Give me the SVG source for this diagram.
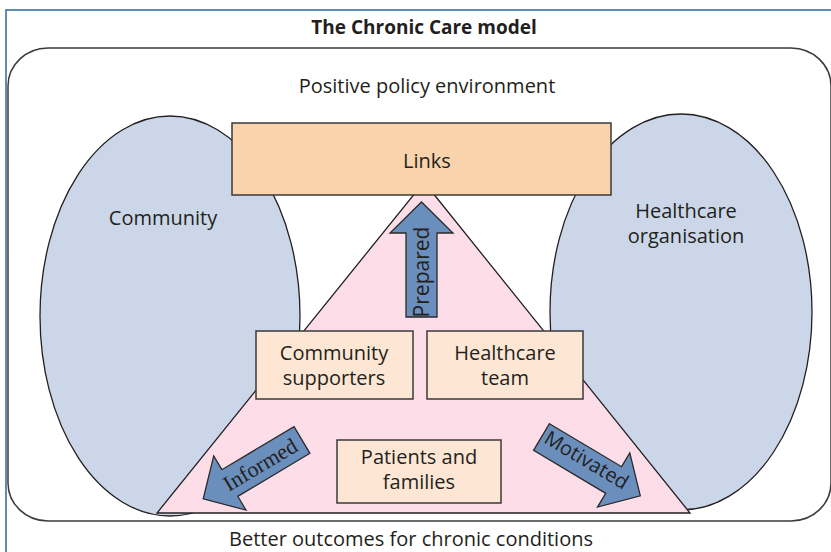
<svg xmlns="http://www.w3.org/2000/svg" width="831" height="552" viewBox="0 0 831 552">
<defs>
<style>
.t{font-family:"Open Sans","Liberation Sans",sans-serif;font-size:20px;fill:#231f20;text-anchor:middle}
.box{fill:#fde7d4;stroke:#3a3a3a;stroke-width:1.5}
.ell{fill:#cbd7e8;stroke:#231f20;stroke-width:1.3}
.arr{fill:#6b8fbd;stroke:#2a2a2a;stroke-width:1.3}
</style>
<path id="arrow" d="M0,-15.5 L84,-15.5 L84,-31.5 L115,0 L84,31.5 L84,15.5 L0,15.5 Z"/>
</defs>
<rect width="831" height="552" fill="#ffffff"/>
<rect x="6" y="10" width="840" height="560" fill="none" stroke="#2d6a9f" stroke-width="1.5"/>
<text class="t" x="424" y="34" style="font-weight:bold;font-size:19px">The Chronic Care model</text>
<rect id="env" x="8" y="48" width="823" height="473" rx="40" ry="38" fill="#ffffff" stroke="#3a3a3a" stroke-width="1.5"/>
<text class="t" x="427" y="93">Positive policy environment</text>
<g id="community">
<ellipse class="ell" cx="170" cy="316" rx="130" ry="200"/>
<text class="t" x="163" y="225">Community</text>
</g>
<g id="healthcare-org">
<ellipse class="ell" cx="681" cy="312" rx="131" ry="198"/>
<text class="t" x="686" y="218">Healthcare</text>
<text class="t" x="686" y="243">organisation</text>
</g>
<g id="triangle">
<path d="M424,182 L690,513 L157,513 Z" fill="#fcdde8" stroke="#231f20" stroke-width="1.3"/>
</g>
<g id="links">
<rect x="232" y="123" width="379" height="72" fill="#f9d3ac" stroke="#3a3a3a" stroke-width="1.5"/>
<text class="t" x="427" y="168">Links</text>
</g>
<g id="connectors">
<use href="#arrow" class="arr" transform="translate(421.5,317) rotate(-90)"/>
<use href="#arrow" class="arr" transform="translate(302,440) rotate(149.2)"/>
<use href="#arrow" class="arr" transform="translate(541.5,437) rotate(30.8)"/>
<text class="t" transform="translate(429,272) rotate(-90)" style="font-size:21px">Prepared</text>
<text class="t" transform="translate(264,471) rotate(-30.8)" style="font-family:'Liberation Serif',serif;font-size:22px">Informed</text>
<text class="t" transform="translate(583,466) rotate(30.8)">Motivated</text>
</g>
<g id="community-supporters">
<rect class="box" x="256" y="331" width="157" height="68"/>
<text class="t" x="334" y="360">Community</text>
<text class="t" x="334" y="385">supporters</text>
</g>
<g id="healthcare-team">
<rect class="box" x="427" y="331" width="156" height="68"/>
<text class="t" x="505" y="360">Healthcare</text>
<text class="t" x="505" y="385">team</text>
</g>
<g id="patients">
<rect class="box" x="337" y="440" width="164" height="63"/>
<text class="t" x="419" y="464">Patients and</text>
<text class="t" x="419" y="489">families</text>
</g>
<text class="t" x="411" y="546">Better outcomes for chronic conditions</text>
</svg>
